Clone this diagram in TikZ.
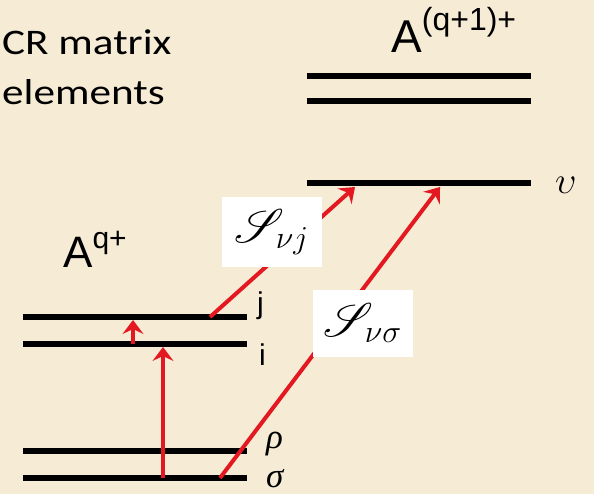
\RequirePackage{fix-cm}
\documentclass[tikz,border=0pt]{standalone}
\usepackage{fontspec}
\usepackage{mathrsfs}
\setmainfont{Liberation Sans}
\newfontfamily\crfont[FakeStretch=1.2]{Carlito}
\newfontfamily\serifit{Liberation Serif}
\usetikzlibrary{arrows.meta,positioning}
\definecolor{bgcream}{RGB}{246,236,214}
\definecolor{arrowred}{RGB}{228,24,32}

\begin{document}
\begin{tikzpicture}[
    x=1pt,y=-1pt,
    level/.style={line width=6pt},
    arrow/.style={-{Stealth[length=14pt,width=21pt,inset=5pt]},line width=4pt,draw=arrowred,fill=arrowred},
    lbl/.style={inner sep=0pt,anchor=base west},
    sbox/.style={fill=white,inner sep=0pt,minimum height=70pt,minimum width=100pt}
  ]
    \fill[bgcream] (0,0) rectangle (594,494);
    % levels of A^(q+1)+
    \draw[level] (307,76) -- (531,76);
    \draw[level] (307,101) -- (531,101);
    \draw[level] (307,183) -- (531,183);
    % levels of A^q+
    \draw[level] (23,317) -- (247,317);
    \draw[level] (23,344) -- (247,344);
    \draw[level] (23,451) -- (247,451);
    \draw[level] (23,478) -- (247,478);
    % end points on the levels
    \coordinate (s1) at (163,478);
    \coordinate (s2) at (220,478);
    \coordinate (i1) at (163,347);
    \coordinate (i2) at (133,344);
    \coordinate (j1) at (133,320);
    \coordinate (j2) at (210,317);
    \coordinate (v1) at (355,187);
    \coordinate (v2) at (440,187);
    \draw[arrow] (s1) -- (i1);
    \draw[arrow] (i2) -- (j1);
    \draw[arrow] (j2) -- (v1);
    \draw[arrow] (s2) -- (v2);
    % matrix elements
    \node[sbox] (Svj) at (272,232) {\scalebox{1.9}{\fontsize{24}{24}\selectfont$\mathscr{S}_{\nu j}$}};
    \node[sbox,minimum height=67pt] (Svs) at (363,323) {\scalebox{1.9}{\fontsize{24}{24}\selectfont$\mathscr{S}_{\nu\sigma}$}};
    % labels
    \node[lbl] (cr) at (2,55) {\crfont\fontsize{36}{36}\selectfont CR matrix};
    \node[lbl] (el) at (2,105) {\crfont\fontsize{36}{36}\selectfont elements};
    \node[lbl] (Aup) at (391,53) {\fontsize{46}{46}\selectfont A\raisebox{22pt}{\fontsize{32}{32}\selectfont (q+1)+}};
    \node[lbl] (Alo) at (63,268) {\fontsize{44}{44}\selectfont A\raisebox{19pt}{\fontsize{30}{30}\selectfont q+}};
    \node[lbl] (lj) at (257,313) {\fontsize{30}{30}\selectfont j};
    \node[lbl] (li) at (259,365) {\fontsize{30}{30}\selectfont i};
    \node[lbl] (lr) at (266,448) {\serifit\itshape\fontsize{35}{35}\selectfont ρ};
    \node[lbl] (ls) at (266,487) {\serifit\itshape\fontsize{35}{35}\selectfont σ};
    \node[lbl] (lv) at (555,194) {\fontsize{38}{38}\selectfont$\upsilon$};
  \end{tikzpicture}
\end{document}
